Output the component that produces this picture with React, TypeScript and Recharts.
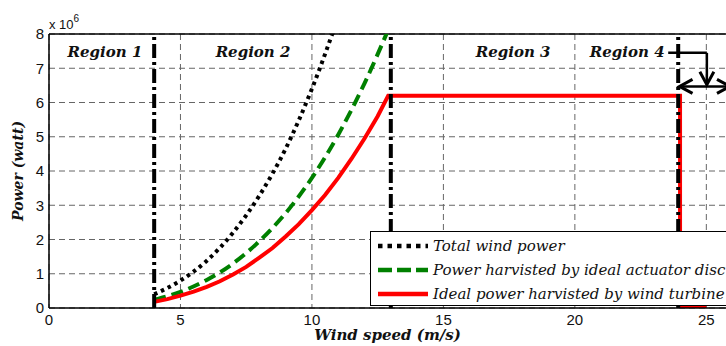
import React from "react";
import {
  LineChart,
  Line,
  XAxis,
  YAxis,
  CartesianGrid,
  ReferenceLine,
  ReferenceDot,
  Legend,
} from "recharts";

// wind speed (m/s) and power (x 10^6 W)
const totalSpeed = [4, 5, 6, 7, 8, 9, 10, 11];
const totalPower = [0.4, 0.8, 1.38, 2.2, 3.28, 4.65, 6.4, 8.5];

const discSpeed = [4, 5, 6, 7, 8, 9, 10, 11, 12, 13];
const discPower = [0.24, 0.47, 0.82, 1.3, 1.95, 2.77, 3.8, 5.06, 6.56, 8.3];

const turbineSpeed = [4, 4.5, 5, 5.5, 6, 6.5, 7, 7.5, 8, 8.5, 9, 9.5, 10, 10.5, 11, 11.5, 12, 12.5, 12.9, 24, 24, 25];
const turbinePower = [0.18, 0.26, 0.36, 0.48, 0.62, 0.78, 0.98, 1.2, 1.47, 1.75, 2.09, 2.45, 2.86, 3.3, 3.8, 4.35, 4.95, 5.6, 6.2, 6.2, 0, 0];

const xTicks = [0, 5, 10, 15, 20, 25];
const yTicks = [0, 1, 2, 3, 4, 5, 6, 7, 8];

const regionBounds = [4, 13, 23.93];
const regionNames = ["Region 1", "Region 2", "Region 3", "Region 4"];
const regionLabelX = [2.13, 7.76, 17.65, 21.99];
const regionLabelY = 7.47;

const seriesNames = [
  "Total wind power",
  "Power harvisted by ideal actuator disc",
  "Ideal power harvisted by wind turbine",
];

const X_MAX = 25.9;
const SERIF = "'DejaVu Serif', serif";
const SANS = "'Liberation Sans', Arial, sans-serif";

const toPoints = (xs: number[], ys: number[]) => xs.map((v, i) => ({ v, p: ys[i] }));

function arrowHead(tx: number, ty: number, fx: number, fy: number) {
  const len = Math.hypot(tx - fx, ty - fy) || 1;
  const ux = (tx - fx) / len;
  const uy = (ty - fy) / len;
  const nx = -uy;
  const ny = ux;
  const bx = tx - ux * 13;
  const by = ty - uy * 13;
  return `M${bx + nx * 7},${by + ny * 7} L${tx},${ty} L${bx - nx * 7},${by - ny * 7}`;
}

const arrowShape = (heads: "none" | "end" | "both") => (props: any) => {
  const { x1, y1, x2, y2 } = props;
  return (
    <g>
      <line x1={x1} y1={y1} x2={x2} y2={y2} stroke="#000" strokeWidth={2.5} />
      {heads !== "none" && (
        <path d={arrowHead(x2, y2, x1, y1)} stroke="#000" strokeWidth={3} fill="none" />
      )}
      {heads === "both" && (
        <path d={arrowHead(x1, y1, x2, y2)} stroke="#000" strokeWidth={3} fill="none" />
      )}
    </g>
  );
};

const regionLabel = (text: string) => (props: any) => {
  const vb = props.viewBox || {};
  const cx = (vb.x ?? 0) + (vb.width ?? 0) / 2;
  const cy = (vb.y ?? 0) + (vb.height ?? 0) / 2;
  return (
    <text
      x={cx}
      y={cy}
      textAnchor="middle"
      dominantBaseline="central"
      fontFamily={SERIF}
      fontSize={15}
      fontWeight="bold"
      fontStyle="italic"
      fill="#111"
    >
      {text}
    </text>
  );
};

function LegendBox() {
  const samples = [
    { stroke: "#000", dash: "4.5 5" },
    { stroke: "#008000", dash: "14 5" },
    { stroke: "#ff0000", dash: undefined },
  ];
  return (
    <div
      style={{
        width: 370,
        height: 75,
        border: "1.5px solid #000",
        background: "#fff",
        boxSizing: "border-box",
        paddingTop: 2,
      }}
    >
      {seriesNames.map((name, i) => (
        <div key={name} style={{ display: "flex", alignItems: "center", height: 24.2 }}>
          <svg width={62} height={10} style={{ flex: "none" }}>
            <line
              x1={7}
              y1={5}
              x2={57}
              y2={5}
              stroke={samples[i].stroke}
              strokeWidth={4.5}
              strokeDasharray={samples[i].dash}
            />
          </svg>
          <span
            style={{
              fontFamily: SERIF,
              fontStyle: "italic",
              fontSize: 15,
              color: "#111",
              whiteSpace: "nowrap",
            }}
          >
            {name}
          </span>
        </div>
      ))}
    </div>
  );
}

export default function App() {
  const totalData = toPoints(totalSpeed, totalPower);
  const discData = toPoints(discSpeed, discPower);
  const turbineData = toPoints(turbineSpeed, turbinePower);

  return (
    <div
      style={{
        position: "absolute",
        left: 0,
        top: 0,
        width: 726,
        height: 346,
        overflow: "hidden",
        background: "#fff",
      }}
    >
      <div
        style={{
          position: "absolute",
          left: 49,
          top: 13,
          fontFamily: SANS,
          fontSize: 13,
          color: "#111",
        }}
      >
        x 10<sup style={{ fontSize: 10, verticalAlign: 7 }}>6</sup>
      </div>
      <LineChart
        width={740}
        height={346}
        margin={{ top: 34, right: 10, bottom: 0, left: 0 }}
      >
        <CartesianGrid stroke="#666" strokeDasharray="6 4" />
        <XAxis
          dataKey="v"
          type="number"
          domain={[0, X_MAX]}
          ticks={xTicks}
          allowDataOverflow
          tickLine={false}
          tickSize={4}
          height={38}
          axisLine={{ stroke: "#000", strokeWidth: 1.5 }}
          tick={{ fill: "#111", fontSize: 15, fontFamily: SANS }}
          label={{
            content: (props: any) => {
              const vb = props.viewBox;
              return (
                <text
                  x={vb.x + vb.width / 2 - 2}
                  y={vb.y + 32}
                  textAnchor="middle"
                  fontFamily={SERIF}
                  fontSize={15}
                  fontWeight="bold"
                  fontStyle="italic"
                  fill="#111"
                >
                  Wind speed (m/s)
                </text>
              );
            },
          }}
        />
        <YAxis
          type="number"
          domain={[0, 8]}
          ticks={yTicks}
          allowDataOverflow
          width={49}
          tickLine={false}
          tickSize={5}
          tickMargin={0}
          axisLine={{ stroke: "#000", strokeWidth: 1.5 }}
          tick={{ fill: "#111", fontSize: 15, fontFamily: SANS }}
          label={{
            content: (props: any) => {
              const vb = props.viewBox;
              const cx = vb.x + 23;
              const cy = vb.y + vb.height / 2;
              return (
                <text
                  x={cx}
                  y={cy}
                  transform={`rotate(-90, ${cx}, ${cy})`}
                  textAnchor="middle"
                  fontFamily={SERIF}
                  fontSize={14}
                  fontWeight="bold"
                  fontStyle="italic"
                  fill="#111"
                >
                  Power (watt)
                </text>
              );
            },
          }}
        />
        <ReferenceLine y={8} stroke="#000" strokeWidth={1.5} />
        <Line
          data={totalData}
          dataKey="p"
          name={seriesNames[0]}
          type="monotone"
          stroke="#000"
          strokeWidth={4}
          strokeDasharray="3.5 4"
          dot={false}
          isAnimationActive={false}
        />
        <Line
          data={discData}
          dataKey="p"
          name={seriesNames[1]}
          type="monotone"
          stroke="#008000"
          strokeWidth={4}
          strokeDasharray="12 6"
          dot={false}
          isAnimationActive={false}
        />
        <Line
          data={turbineData}
          dataKey="p"
          name={seriesNames[2]}
          type="linear"
          stroke="#ff0000"
          strokeWidth={4}
          dot={false}
          isAnimationActive={false}
        />
        {regionBounds.map((b) => (
          <ReferenceLine
            key={b}
            x={b}
            stroke="#000"
            strokeWidth={4}
            strokeDasharray="14 4 3 4"
          />
        ))}
        {regionNames.map((name, i) => (
          <ReferenceDot
            key={name}
            x={regionLabelX[i]}
            y={regionLabelY}
            r={0}
            fill="none"
            stroke="none"
            label={{ content: regionLabel(name) }}
          />
        ))}
        <ReferenceLine
          segment={[
            { x: 23.55, y: 7.45 },
            { x: 25.02, y: 7.45 },
          ]}
          shape={arrowShape("none")}
        />
        <ReferenceLine
          segment={[
            { x: 25.02, y: 7.45 },
            { x: 25.02, y: 6.52 },
          ]}
          shape={arrowShape("end")}
        />
        <ReferenceLine
          segment={[
            { x: 23.98, y: 6.47 },
            { x: X_MAX, y: 6.47 },
          ]}
          shape={arrowShape("both")}
        />
        <Legend
          layout="vertical"
          align="center"
          verticalAlign="middle"
          wrapperStyle={{ left: 370, top: 231, width: 370 }}
          content={() => <LegendBox />}
        />
      </LineChart>
    </div>
  );
}
